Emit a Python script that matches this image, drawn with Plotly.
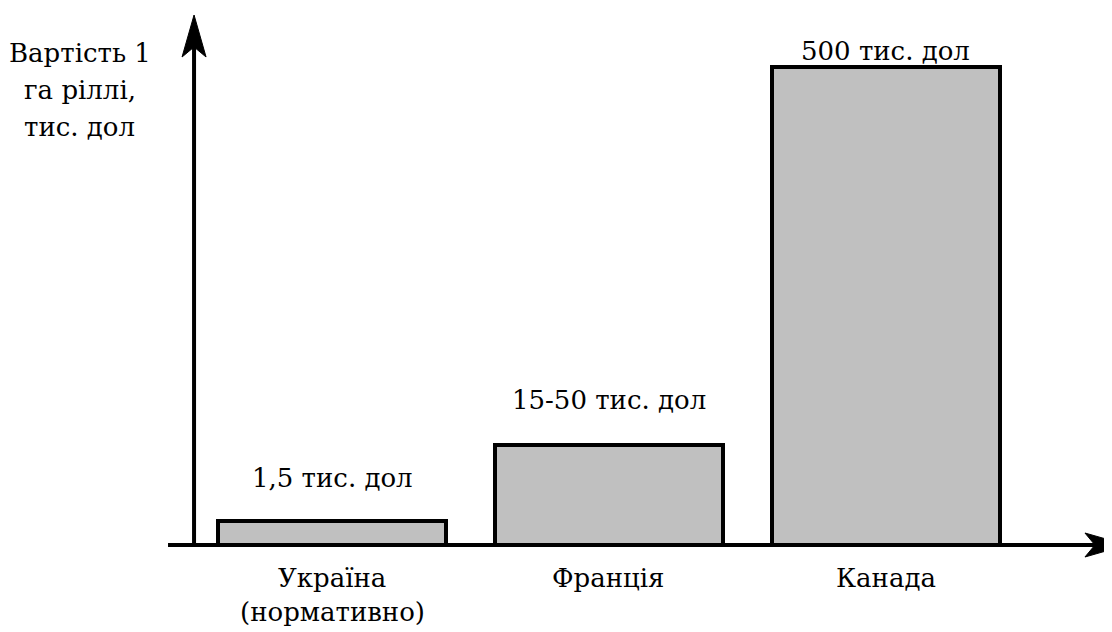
import plotly.graph_objects as go

# Data (bar heights are the schematic heights drawn in the reference, arbitrary units)
categories = [["Україна", "(нормативно)"], ["Франція"], ["Канада"]]
value_labels = ["1,5 тис. дол", "15-50 тис. дол", "500 тис. дол"]
drawn_heights = [24.5, 100.5, 478]
y_title_lines = ["Вартість 1", "га ріллі,", "тис. дол"]

FONT = "DejaVu Serif, serif"
FS = 26
TXT = dict(family=FONT, size=FS, color="black")
xs = list(range(len(categories)))

fig = go.Figure()
fig.add_trace(go.Bar(
    x=xs, y=drawn_heights, width=0.82,
    marker=dict(color="#c0c0c0", line=dict(color="black", width=4)),
    hoverinfo="skip",
))

annotations = []
# value labels above bars
label_shift = [43, 45, 16]
for x, h, t, s in zip(xs, drawn_heights, value_labels, label_shift):
    annotations.append(dict(x=x, y=h, text=t, showarrow=False, xref="x", yref="y",
                            yanchor="middle", yshift=s, font=TXT))
# category labels below axis
for x, lines in zip(xs, categories):
    for i, ln in enumerate(lines):
        annotations.append(dict(x=x, y=-33 - 34 * i, text=ln, showarrow=False, xref="x", yref="y",
                                yanchor="middle", font=TXT))
# y title
for i, ln in enumerate(y_title_lines):
    annotations.append(dict(x=-0.91, y=492 - 37 * i, text=ln, showarrow=False, xref="x", yref="y",
                            yanchor="middle", font=TXT))

AX_X = -0.498
shapes = [
    dict(type="line", xref="x", yref="y", x0=-0.592, x1=2.85, y0=0, y1=0,
         line=dict(color="black", width=4), layer="above"),
    dict(type="line", xref="x", yref="y", x0=AX_X, x1=AX_X, y0=0, y1=500,
         line=dict(color="black", width=4), layer="above"),
    dict(type="path", xref="x", yref="y", xsizemode="pixel", ysizemode="pixel",
         xanchor=AX_X, yanchor=530,
         path="M0,0 L-12,-42 L0,-32 L12,-42 Z",
         fillcolor="black", line=dict(color="black", width=1), layer="above"),
    dict(type="path", xref="x", yref="y", xsizemode="pixel", ysizemode="pixel",
         xanchor=2.870, yanchor=0,
         path="M0,0 L-42,12 L-32,0 L-42,-12 Z",
         fillcolor="black", line=dict(color="black", width=1), layer="above"),
]

fig.update_layout(
    width=1104, height=624,
    margin=dict(l=0, r=0, t=0, b=0),
    paper_bgcolor="white", plot_bgcolor="white",
    showlegend=False,
    xaxis=dict(range=[-1.1697, 2.816], visible=False, fixedrange=True),
    yaxis=dict(range=[-87, 537], visible=False, fixedrange=True),
    annotations=annotations,
    shapes=shapes,
    bargap=0,
)
fig.write_html("out.html")
